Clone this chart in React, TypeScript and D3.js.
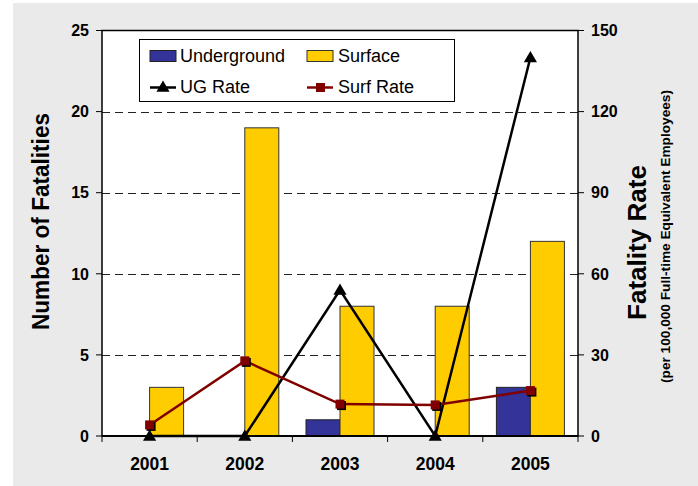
import React from "react";
import * as d3 from "d3";

const years = ["2001", "2002", "2003", "2004", "2005"];
const underground = [0, 0, 1, 0, 3];
const surface = [3, 19, 8, 8, 12];
const ugRate = [0, 0, 54, 0, 140];
const surfRate = [4.1, 27.8, 11.8, 11.5, 16.8];
const leftTicks = [0, 5, 10, 15, 20, 25];
const rightTicks = [0, 30, 60, 90, 120, 150];

const W = 698;
const H = 486;
const M = { left: 102, right: 578, top: 30.5, bottom: 436 };
const FONT = "Arial, 'Liberation Sans', sans-serif";

export default function App() {
  const x = d3.scaleBand<string>().domain(years).range([M.left, M.right]);
  const yL = d3.scaleLinear().domain([0, 25]).range([M.bottom, M.top]);
  const yR = d3.scaleLinear().domain([0, 150]).range([M.bottom, M.top]);
  const barW = 34;
  const cx = (y: string) => (x(y) as number) + x.bandwidth() / 2;

  const line = d3
    .line<number>()
    .x((_, i) => cx(years[i]))
    .y((d) => yR(d));

  const tri = d3.symbol().type(d3.symbolTriangle).size(75)();
  const boundaries = [...years.map((y) => x(y) as number), M.right];

  return (
    <svg
      width={W}
      height={H}
      style={{ position: "fixed", left: 0, top: 0, fontFamily: FONT }}
    >
      <rect x={13} y={3} width={W - 13} height={H - 3} fill="#eaeaea" />
      <rect
        x={M.left}
        y={M.top}
        width={M.right - M.left}
        height={M.bottom - M.top}
        fill="#fff"
      />
      {/* gridlines */}
      {leftTicks.slice(1, -1).map((t) => (
        <line
          key={t}
          x1={M.left}
          x2={M.right}
          y1={Math.round(yL(t)) + 0.5}
          y2={Math.round(yL(t)) + 0.5}
          stroke="#222"
          strokeWidth={1}
          strokeDasharray="8,5"
        />
      ))}
      {/* bars */}
      {years.map((y, i) => (
        <g key={y}>
          {underground[i] > 0 && (
            <rect
              x={cx(y) - barW}
              y={yL(underground[i])}
              width={barW}
              height={M.bottom - yL(underground[i])}
              fill="#333399"
              stroke="#222"
              strokeWidth={1}
            />
          )}
          <rect
            x={cx(y)}
            y={yL(surface[i])}
            width={barW}
            height={M.bottom - yL(surface[i])}
            fill="#ffcc00"
            stroke="#333"
            strokeWidth={1}
          />
        </g>
      ))}
      {/* frame */}
      <rect
        x={M.left}
        y={M.top}
        width={M.right - M.left}
        height={M.bottom - M.top}
        fill="none"
        stroke="#000"
        strokeWidth={1.5}
      />
      {/* left axis ticks */}
      {leftTicks.map((t) => (
        <g key={t}>
          <line x1={M.left - 6} x2={M.left} y1={yL(t)} y2={yL(t)} stroke="#000" />
          <text
            x={89}
            y={yL(t)}
            dy="0.36em"
            textAnchor="end"
            fontSize={16}
            fontWeight="bold"
          >
            {t}
          </text>
        </g>
      ))}
      {/* right axis ticks */}
      {rightTicks.map((t) => (
        <g key={t}>
          <line x1={M.right} x2={M.right + 6} y1={yR(t)} y2={yR(t)} stroke="#000" />
          <text
            x={591}
            y={yR(t)}
            dy="0.36em"
            textAnchor="start"
            fontSize={16}
            fontWeight="bold"
          >
            {t}
          </text>
        </g>
      ))}
      {/* x axis */}
      <line x1={M.left} x2={M.right} y1={M.bottom} y2={M.bottom} stroke="#000" strokeWidth={2} />
      {boundaries.map((b, i) => (
        <line key={i} x1={b} x2={b} y1={M.bottom} y2={M.bottom + 6} stroke="#000" />
      ))}
      {years.map((y) => (
        <text
          key={y}
          x={cx(y)}
          y={470}
          textAnchor="middle"
          fontSize={17.5}
          fontWeight="bold"
        >
          {y}
        </text>
      ))}
      {/* UG rate line */}
      <path d={line(ugRate) || ""} fill="none" stroke="#000" strokeWidth={2.5} />
      {ugRate.map((v, i) => (
        <path
          key={i}
          d={tri || ""}
          transform={`translate(${cx(years[i])},${yR(v) + 1})`}
          fill="#000"
        />
      ))}
      {/* Surf rate line */}
      <path d={line(surfRate) || ""} fill="none" stroke="#800000" strokeWidth={2.5} />
      {surfRate.map((v, i) => (
        <g key={i}>
          <rect x={cx(years[i]) - 3} y={yR(v) - 3} width={9} height={9} fill="#000" />
          <rect x={cx(years[i]) - 4.5} y={yR(v) - 4.5} width={9} height={9} fill="#800000" />
        </g>
      ))}
      {/* legend */}
      <rect x={139.5} y={39.5} width={315} height={62} fill="#fff" stroke="#000" strokeWidth={1} />
      <rect x={150} y={50.5} width={26} height={11} fill="#333399" stroke="#222" />
      <text x={180} y={62} fontSize={18}>
        Underground
      </text>
      <rect x={307} y={50.5} width={26} height={11} fill="#ffcc00" stroke="#333" />
      <text x={338} y={62} fontSize={18}>
        Surface
      </text>
      <line x1={150} x2={176} y1={87.5} y2={87.5} stroke="#000" strokeWidth={2.5} />
      <path d={tri || ""} transform="translate(163,88)" fill="#000" />
      <text x={180} y={93} fontSize={18}>
        UG Rate
      </text>
      <line x1={307} x2={333} y1={87.5} y2={87.5} stroke="#800000" strokeWidth={2.5} />
      <rect x={316} y={83} width={9} height={9} fill="#800000" />
      <text x={338} y={93} fontSize={18}>
        Surf Rate
      </text>
      {/* axis titles */}
      <text
        transform="translate(49,221.5) rotate(-90)"
        textAnchor="middle"
        fontSize={24}
        fontWeight="bold"
        textLength={217}
        lengthAdjust="spacingAndGlyphs"
      >
        Number of Fatalities
      </text>
      <text
        transform="translate(646,242.5) rotate(-90)"
        textAnchor="middle"
        fontSize={25}
        fontWeight="bold"
        textLength={155}
        lengthAdjust="spacingAndGlyphs"
      >
        Fatality Rate
      </text>
      <text
        transform="translate(670,236.5) rotate(-90)"
        textAnchor="middle"
        fontSize={13.5}
        fontWeight="bold"
        textLength={293}
        lengthAdjust="spacingAndGlyphs"
      >
        (per 100,000 Full-time Equivalent Employees)
      </text>
    </svg>
  );
}
